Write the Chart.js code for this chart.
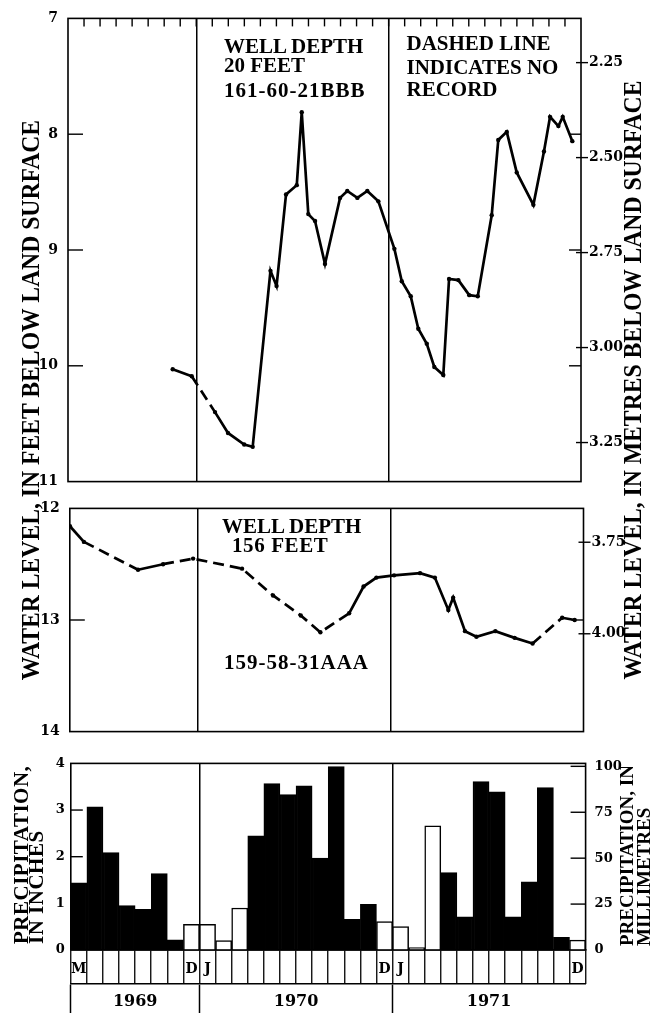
<!DOCTYPE html>
<html><head><meta charset="utf-8">
<script src="https://cdn.jsdelivr.net/npm/chart.js@4.4.1/dist/chart.umd.min.js"></script>
<style>
html,body{margin:0;padding:0;background:#fff;}
#wrap{position:relative;width:656px;height:1013px;overflow:hidden;background:#fff;}
canvas{position:absolute;left:0;}
.t{position:absolute;font-family:"Liberation Serif","Times New Roman",serif;font-weight:bold;color:#000;white-space:nowrap;line-height:1;font-size:21px;}
.rot{position:absolute;font-family:"Liberation Serif","Times New Roman",serif;font-weight:bold;color:#000;white-space:nowrap;line-height:1;font-size:26px;transform:translate(-50%,-50%) rotate(-90deg) scaleX(0.91);}
.rotb{position:absolute;font-family:"Liberation Serif","Times New Roman",serif;font-weight:bold;color:#000;white-space:nowrap;transform-origin:0 0;transform:rotate(-90deg);}
</style></head><body>
<div id="wrap">
<canvas id="c1" width="656" height="500" style="top:0px"></canvas>
<canvas id="c2" width="656" height="260" style="top:490px"></canvas>
<canvas id="c3" width="656" height="268" style="top:745px"></canvas>

<div class="t" style="left:224px;top:36.4px">WELL DEPTH</div>
<div class="t" style="left:224px;top:55.1px">20 FEET</div>
<div class="t" style="left:224px;top:80.2px;letter-spacing:1px">161-60-21BBB</div>
<div class="t" style="left:406.5px;top:33.1px">DASHED LINE</div>
<div class="t" style="left:406.5px;top:56.8px">INDICATES NO</div>
<div class="t" style="left:406.5px;top:78.7px">RECORD</div>
<div class="t" style="left:222px;top:516.4px">WELL DEPTH</div>
<div class="t" style="left:232px;top:535.4px;letter-spacing:0.6px">156 FEET</div>
<div class="t" style="left:224px;top:652.4px;letter-spacing:1px">159-58-31AAA</div>

<div class="rot" style="left:31px;top:400px">WATER LEVEL, IN FEET BELOW LAND SURFACE</div>
<div class="rot" style="left:633px;top:380px">WATER LEVEL, IN METRES BELOW LAND SURFACE</div>
<div class="rotb" style="left:13.5px;top:944px;font-size:21px;line-height:15px;letter-spacing:0.5px">PRECIPITATION,<br>IN INCHES</div>
<div class="rotb" style="left:618px;top:946px;font-size:19px;line-height:17px">PRECIPITATION, IN<br>MILLIMETRES</div>
</div>
<script>
// ---------- data ----------
// time: months since 1 January 1969
const FT_TO_M = 0.3048;
const yearBreaks = [12, 24];            // 1 Jan 1970, 1 Jan 1971

// Well 161-60-21BBB (depth 20 ft)
const shallowMonths = [10.53, 11.72, 13.17, 13.98, 14.99, 15.52, 16.63, 17.01, 17.60, 18.27, 18.58, 18.99, 19.41, 20.03, 20.97, 21.42, 22.05, 22.67, 23.36, 24.36, 24.82, 25.38, 25.85, 26.38, 26.85, 27.41, 27.77, 28.35, 29.03, 29.56, 30.43, 30.84, 31.37, 31.99, 33.03, 33.69, 34.07, 34.59, 34.86, 35.46];
const shallowDepthFt = [10.03, 10.09, 10.40, 10.58, 10.68, 10.70, 9.18, 9.31, 8.52, 8.44, 7.81, 8.69, 8.75, 9.12, 8.55, 8.49, 8.55, 8.49, 8.58, 8.99, 9.27, 9.40, 9.68, 9.81, 10.01, 10.08, 9.25, 9.26, 9.39, 9.40, 8.70, 8.05, 7.98, 8.33, 8.61, 8.15, 7.85, 7.93, 7.85, 8.06];
const shallowNoRecord = [1];            // segment starting at this point has no record
const shallowFtTicks = [7, 8, 9, 10, 11];
const shallowMetreTicks = [2.25, 2.50, 2.75, 3.00, 3.25];

// Well 159-58-31AAA (depth 156 ft)
const deepMonths = [4.01, 4.88, 8.25, 9.81, 11.68, 14.73, 16.66, 18.39, 19.61, 21.40, 22.30, 23.10, 24.20, 25.82, 26.74, 27.58, 27.88, 28.62, 29.33, 30.51, 31.71, 32.83, 34.67, 35.45];
const deepDepthFt = [12.16, 12.30, 12.55, 12.50, 12.45, 12.54, 12.78, 12.96, 13.11, 12.94, 12.70, 12.62, 12.60, 12.58, 12.62, 12.91, 12.80, 13.10, 13.15, 13.10, 13.16, 13.21, 12.98, 13.00];
const deepNoRecord = [1, 3, 4, 5, 6, 7, 8, 21];
const deepFtTicks = [12, 13, 14];
const deepMetreTicks = [3.75, 4.00];

// Monthly precipitation
const precipMonths = ['May 1969','Jun 1969','Jul 1969','Aug 1969','Sep 1969','Oct 1969','Nov 1969','Dec 1969',
  'Jan 1970','Feb 1970','Mar 1970','Apr 1970','May 1970','Jun 1970','Jul 1970','Aug 1970','Sep 1970','Oct 1970','Nov 1970','Dec 1970',
  'Jan 1971','Feb 1971','Mar 1971','Apr 1971','May 1971','Jun 1971','Jul 1971','Aug 1971','Sep 1971','Oct 1971','Nov 1971','Dec 1971'];
const precipInches = [1.44, 3.07, 2.09, 0.95, 0.87, 1.64, 0.22, 0.55,
  0.55, 0.20, 0.90, 2.45, 3.57, 3.33, 3.52, 1.97, 3.93, 0.66, 0.98, 0.61,
  0.50, 0.05, 2.66, 1.66, 0.71, 3.61, 3.39, 0.71, 1.46, 3.48, 0.27, 0.21];
const winterMonths = ['Dec', 'Jan', 'Feb', 'Mar'];
const precipInchTicks = [0, 1, 2, 3, 4];
const precipMmTicks = [0, 25, 50, 75, 100];
const yearLabels = ['1969', '1970', '1971'];
const yearStarts = [4, 12, 24, 36];

// ---------- drawing ----------
const tickFont = {family: 'DejaVu Serif', weight: 'bold', size: 14};
const fixTicks = vals => s => { s.ticks = vals.map(v => ({value: v})); };
const noGrid = {display: false, drawTicks: false, tickLength: 0};

const frameDecor = {
  id: 'frameDecor',
  afterDatasetsDraw(chart, args, o) {
    const {ctx, chartArea: a} = chart;
    ctx.save();
    ctx.strokeStyle = '#000';
    ctx.lineWidth = 1.6;
    ctx.strokeRect(a.left, a.top, a.right - a.left, a.bottom - a.top);
    const seg = (x1, y1, x2, y2) => { ctx.beginPath(); ctx.moveTo(x1, y1); ctx.lineTo(x2, y2); ctx.stroke(); };
    ctx.lineWidth = 1.4;
    (o.marks || []).forEach(m => {
      const s = chart.scales[m.axis];
      s.ticks.forEach(t => {
        const py = s.getPixelForValue(t.value);
        if (py < a.top + 2 || py > a.bottom - 2) return;
        if (m.left) seg(a.left, py, a.left + m.left, py);
        if (m.right || m.out) seg(a.right - (m.right || 0), py, a.right + (m.out || 0), py);
      });
    });
    if (o.monthTicks) {
      const s = chart.scales.x;
      for (let v = s.min + 1; v < s.max; v++) {
        const px = s.getPixelForValue(v);
        seg(px, a.top, px, a.top + o.monthTicks);
      }
    }
    ctx.restore();
  }
};

function wellChart(id, months, depths, noRecord, ftTicks, mTicks, pad, leftW, rightW, monthTicks) {
  const ftMin = ftTicks[0], ftMax = ftTicks[ftTicks.length - 1];
  return new Chart(document.getElementById(id), {
    type: 'line',
    data: {datasets: [{
      data: months.map((m, i) => ({x: m, y: depths[i]})),
      borderColor: '#000', borderWidth: 2.7, tension: 0,
      pointRadius: 2.2, pointBackgroundColor: '#000', pointBorderWidth: 0,
      segment: {borderDash: c => noRecord.includes(c.p0DataIndex) ? [11, 6] : undefined}
    }]},
    options: {
      responsive: false, animation: false, devicePixelRatio: 1,
      layout: {padding: {top: pad[0], bottom: pad[1], left: 0, right: 0}},
      plugins: {legend: {display: false}, tooltip: {enabled: false},
        frameDecor: {monthTicks: monthTicks, marks: [{axis: 'y', left: 15, right: 12}, {axis: 'y1', right: 5, out: 7}]}},
      scales: {
        x: {type: 'linear', min: 4, max: 36, afterBuildTicks: fixTicks(yearBreaks),
            afterFit: s => { s.height = 0; }, ticks: {display: false},
            grid: {color: '#000', lineWidth: 1.5, drawTicks: false, tickLength: 0}, border: {display: false}},
        y: {type: 'linear', position: 'left', min: ftMin, max: ftMax, reverse: true,
            afterBuildTicks: fixTicks(ftTicks), afterFit: s => { s.width = leftW; },
            ticks: {padding: 10, font: tickFont, color: '#000'},
            grid: noGrid, border: {display: false}},
        y1: {type: 'linear', position: 'right', min: ftMin * FT_TO_M, max: ftMax * FT_TO_M, reverse: true,
            afterBuildTicks: fixTicks(mTicks), afterFit: s => { s.width = rightW; },
            ticks: {padding: 8, font: tickFont, color: '#000', callback: v => v.toFixed(2)},
            grid: noGrid, border: {display: false}}
      }
    },
    plugins: [frameDecor]
  });
}

wellChart('c1', shallowMonths, shallowDepthFt, shallowNoRecord, shallowFtTicks, shallowMetreTicks, [14.2, 17.2], 68, 75, 8);
wellChart('c2', deepMonths, deepDepthFt, deepNoRecord, deepFtTicks, deepMetreTicks, [16.5, 8.7], 69.8, 72.5, 0);

const janIdx = precipMonths.map((m, i) => m.startsWith('Jan') ? i : -1).filter(i => i >= 0);
const yearMids = yearLabels.map((y, i) => (yearStarts[i] + yearStarts[i + 1]) / 2);

new Chart(document.getElementById('c3'), {
  type: 'bar',
  data: {labels: precipMonths, datasets: [{
    data: precipInches,
    backgroundColor: c => winterMonths.includes(precipMonths[c.dataIndex].slice(0, 3)) ? '#fff' : '#000',
    borderColor: '#000', borderWidth: 1.5, borderSkipped: 'bottom',
    barPercentage: 1, categoryPercentage: 1
  }]},
  options: {
    responsive: false, animation: false, devicePixelRatio: 1,
    layout: {padding: {top: 18.4, bottom: 0, left: 0, right: 0}},
    plugins: {legend: {display: false}, tooltip: {enabled: false},
      frameDecor: {marks: [{axis: 'y', left: 12}, {axis: 'y2', right: 15}]}},
    scales: {
      x: {type: 'category', position: 'bottom', weight: 0,
          afterFit: s => { s.height = 34; },
          ticks: {autoSkip: false, maxRotation: 0, minRotation: 0, padding: -23, color: '#000',
                  font: {family: 'DejaVu Serif', weight: 'bold', size: 14},
                  callback: (v, i) => { const m = precipMonths[i]; return (i === 0 || m.startsWith('Jan') || m.startsWith('Dec')) ? m[0] : ''; }},
          grid: {offset: true, drawOnChartArea: true, tickLength: 34, tickWidth: 1.3, tickColor: '#000',
                 lineWidth: 1.5, color: c => janIdx.includes(c.index) ? '#000' : 'rgba(0,0,0,0)'},
          border: {display: true, color: '#000', width: 1.6}},
      x2: {type: 'linear', position: 'bottom', weight: 1, min: 4, max: 36, offset: false,
          afterBuildTicks: fixTicks(yearStarts.concat(yearMids).sort((a, b) => a - b)),
          afterFit: s => { s.height = 29; },
          ticks: {padding: -21, color: '#000', maxRotation: 0, autoSkip: false,
                  font: {family: 'DejaVu Serif', weight: 'bold', size: 16},
                  callback: v => { const k = yearMids.indexOf(v); return k >= 0 ? yearLabels[k] : ''; }},
          grid: {offset: false, drawOnChartArea: false, tickLength: 29, tickWidth: 1.5,
                 tickColor: c => (c.tick && yearStarts.slice(0, 3).includes(c.tick.value)) ? '#000' : 'rgba(0,0,0,0)'},
          border: {display: true, color: '#000', width: 1.6}},
      y: {type: 'linear', position: 'left', min: 0, max: 4, afterBuildTicks: fixTicks(precipInchTicks),
          afterFit: s => { s.width = 70.8; },
          ticks: {padding: 6, color: '#000', font: {family: 'DejaVu Serif', weight: 'bold', size: 13}},
          grid: noGrid, border: {display: false}},
      y2: {type: 'linear', position: 'right', min: 0, max: 4 * 25.4, afterBuildTicks: fixTicks(precipMmTicks),
          afterFit: s => { s.width = 70.4; },
          ticks: {padding: 9, color: '#000', font: {family: 'DejaVu Serif', weight: 'bold', size: 13}},
          grid: noGrid, border: {display: false}}
    }
  },
  plugins: [frameDecor]
});
</script>
</body></html>
